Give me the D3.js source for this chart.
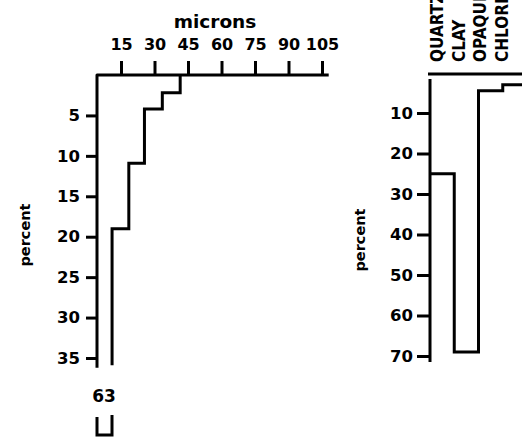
<!DOCTYPE html>
<html>
<head>
<meta charset="utf-8">
<script src="https://cdn.jsdelivr.net/npm/d3@7"></script>
<style>
  body { margin: 0; background: #fff; }
  svg text { font-family: "DejaVu Sans", sans-serif; font-weight: bold; fill: #000; }
  svg text.mineral { font-family: "DejaVu Sans Condensed", "DejaVu Sans", sans-serif; font-weight: 700; font-stretch: condensed; }
</style>
</head>
<body>
<div id="chart"></div>
<script>
// left panel: grain size steps (microns) against cumulative percent
var sizeTicks = [15, 30, 45, 60, 75, 90, 105];
var pctTicksLeft = [5, 10, 15, 20, 25, 30, 35];
var grainSizes = [41.5, 33.5, 25.5, 18.5, 11];
var grainBreaks = [0, 2.2, 4.2, 10.9, 19, 35.9];
var sampleLabel = "63";

// right panel: mineral composition
var minerals = ["QUARTZ", "CLAY", "OPAQUE", "CHLORITE"];
var mineralPct = [25, 69, 4.5, 3];
var pctTicksRight = [10, 20, 30, 40, 50, 60, 70];

var W = 522, H = 437;
var svg = d3.select("#chart").append("svg")
    .attr("width", W)
    .attr("height", H);

var ink = "#000";

// ---------- left panel ----------
var x = d3.scaleLinear().domain([0, 105]).range([87.5, 322]);
var y = d3.scaleLinear().domain([0, 35]).range([75, 358]);
var axisX = 97, axisTopY = 75;

var gTop = svg.append("g")
    .attr("transform", "translate(0," + axisTopY + ")")
    .call(d3.axisTop(x).tickValues(sizeTicks).tickSize(14).tickPadding(11));
gTop.select(".domain").remove();
gTop.selectAll(".tick line").attr("stroke", ink).attr("stroke-width", 3);
gTop.selectAll(".tick text").style("font-size", "16px");

var gLeft = svg.append("g")
    .attr("transform", "translate(" + axisX + ",0)")
    .call(d3.axisLeft(y).tickValues(pctTicksLeft).tickSize(11).tickPadding(6));
gLeft.select(".domain").remove();
gLeft.selectAll(".tick line").attr("stroke", ink).attr("stroke-width", 3);
gLeft.selectAll(".tick text").style("font-size", "16.5px");

// frame lines (top and left)
svg.append("path")
    .attr("d", "M" + axisX + "," + y(36.2) + "V" + axisTopY + "H" + x(108))
    .attr("fill", "none").attr("stroke", ink).attr("stroke-width", 3)
    .attr("stroke-linejoin", "round");

// step line
var stepPts = [];
grainSizes.forEach(function(s, i) {
    stepPts.push([x(s), y(grainBreaks[i])]);
    stepPts.push([x(s), y(grainBreaks[i + 1])]);
});
svg.append("path")
    .attr("d", d3.line()(stepPts))
    .attr("fill", "none").attr("stroke", ink).attr("stroke-width", 3);

svg.append("text")
    .attr("x", 215).attr("y", 28)
    .attr("text-anchor", "middle")
    .style("font-size", "18.5px")
    .text("microns");

svg.append("text")
    .attr("transform", "translate(30,235) rotate(-90)")
    .attr("text-anchor", "middle")
    .style("font-size", "14.5px")
    .text("percent");

svg.append("text")
    .attr("x", 104).attr("y", 402)
    .attr("text-anchor", "middle")
    .style("font-size", "17px")
    .text(sampleLabel);

svg.append("path")
    .attr("d", "M97,417V435H112V415")
    .attr("fill", "none").attr("stroke", ink).attr("stroke-width", 3);

// ---------- right panel ----------
var xm = d3.scaleBand().domain(minerals).range([430, 527]);
var xLabel = d3.scalePoint().domain(minerals).range([443, 508]);
var ym = d3.scaleLinear().domain([0, 70]).range([72.5, 356]);
var rAxisX = 430;

var gRight = svg.append("g")
    .attr("transform", "translate(" + rAxisX + ",0)")
    .call(d3.axisLeft(ym).tickValues(pctTicksRight).tickSize(13).tickPadding(4));
gRight.select(".domain").remove();
gRight.selectAll(".tick line").attr("stroke", ink).attr("stroke-width", 3);
gRight.selectAll(".tick text").style("font-size", "16.5px");

svg.append("line")
    .attr("x1", 428).attr("x2", W).attr("y1", 74).attr("y2", 74)
    .attr("stroke", ink).attr("stroke-width", 3);
svg.append("line")
    .attr("x1", rAxisX).attr("x2", rAxisX).attr("y1", 79).attr("y2", ym(71.5))
    .attr("stroke", ink).attr("stroke-width", 3);

var minPts = [];
minerals.forEach(function(m, i) {
    minPts.push([xm(m), ym(mineralPct[i])]);
    minPts.push([xm(m) + xm.bandwidth(), ym(mineralPct[i])]);
});
svg.append("path")
    .attr("d", d3.line()(minPts))
    .attr("fill", "none").attr("stroke", ink).attr("stroke-width", 3);

svg.selectAll(".mineral")
    .data(minerals).enter()
    .append("text")
    .attr("class", "mineral")
    .attr("transform", function(d) {
        return "translate(" + xLabel(d) + ",62) rotate(-90)";
    })
    .style("font-size", "17px")
    .text(function(d) { return d; });

svg.append("text")
    .attr("transform", "translate(365,240) rotate(-90)")
    .attr("text-anchor", "middle")
    .style("font-size", "14.5px")
    .text("percent");
</script>
</body>
</html>
